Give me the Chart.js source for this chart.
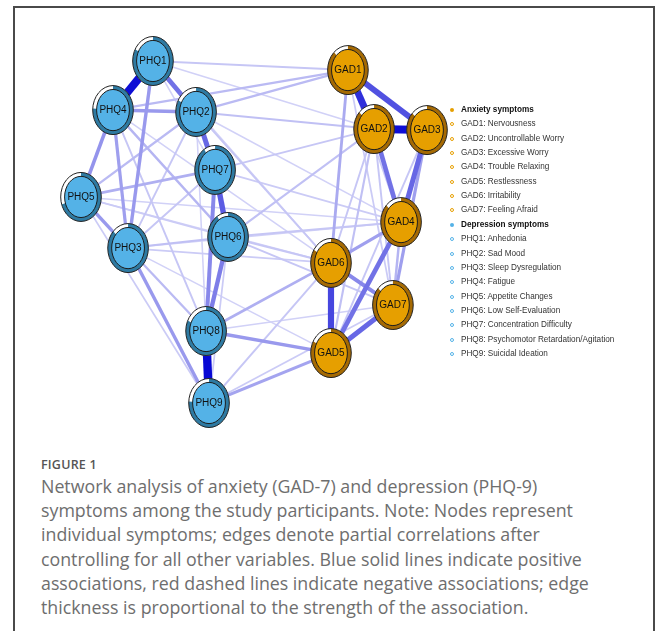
<!DOCTYPE html>
<html><head><meta charset="utf-8">
<script src="https://cdn.jsdelivr.net/npm/chart.js@4/dist/chart.umd.min.js"></script>
<style>
html,body{margin:0;padding:0;background:#fff;width:658px;height:631px;overflow:hidden;}
#frame{position:absolute;left:13px;top:6px;width:642px;height:700px;border:2px solid #4a4a4a;box-sizing:border-box;}
#wrap{position:absolute;left:0;top:0;width:658px;height:445px;}
#legend{position:absolute;left:0;top:0;font-family:"Liberation Sans",Arial,sans-serif;font-size:8.2px;color:#333;}
.row{position:absolute;left:461px;white-space:nowrap;line-height:10px;height:10px;}
.row.hd{font-weight:bold;color:#111;}
.dot{position:absolute;left:-11.5px;top:3px;width:4px;height:4px;border-radius:50%;box-sizing:border-box;}
#figlabel{position:absolute;left:41px;top:456px;font-family:"Open Sans",sans-serif;font-weight:600;font-size:12.5px;color:#555;letter-spacing:0.2px;}
#caption{position:absolute;left:41px;top:474px;width:600px;font-family:"Open Sans",sans-serif;font-weight:400;font-size:17.8px;line-height:24.2px;color:#6e6e6e;}
</style>
</head><body>
<div id="frame"></div>
<div id="wrap"><canvas id="c" width="658" height="445"></canvas></div>
<div id="legend"></div>
<div id="figlabel">FIGURE 1</div>
<div id="caption">Network analysis of anxiety (GAD-7) and depression (PHQ-9)<br>symptoms among the study participants. Note: Nodes represent<br>individual symptoms; edges denote partial correlations after<br>controlling for all other variables. Blue solid lines indicate positive<br>associations, red dashed lines indicate negative associations; edge<br>thickness is proportional to the strength of the association.</div>
<script>
// ---- data ----
const groupNames = ['Anxiety symptoms', 'Depression symptoms'];
const gadCodes = ['GAD1','GAD2','GAD3','GAD4','GAD5','GAD6','GAD7'];
const gadNames = ['Nervousness','Uncontrollable Worry','Excessive Worry','Trouble Relaxing','Restlessness','Irritability','Feeling Afraid'];
const phqCodes = ['PHQ1','PHQ2','PHQ3','PHQ4','PHQ5','PHQ6','PHQ7','PHQ8','PHQ9'];
const phqNames = ['Anhedonia','Sad Mood','Sleep Dysregulation','Fatigue','Appetite Changes','Low Self-Evaluation','Concentration Difficulty','Psychomotor Retardation/Agitation','Suicidal Ideation'];

// layout coordinates of the network (layout units, -1..1)
const nodeIds = ['PHQ1','PHQ2','PHQ3','PHQ4','PHQ5','PHQ6','PHQ7','PHQ8','PHQ9','GAD1','GAD2','GAD3','GAD4','GAD5','GAD6','GAD7'];
const layoutX = [-0.584,-0.335,-0.728,-0.815,-1.000,-0.150,-0.225,-0.277,-0.260, 0.543, 0.694, 1.000, 0.850, 0.445, 0.445, 0.803];
const layoutY = [ 1.000, 0.702,-0.094, 0.713, 0.205,-0.029, 0.363,-0.579,-1.000, 0.947, 0.602, 0.596, 0.058,-0.708,-0.181,-0.427];
// node predictability (filled share of the ring)
const predictability = [0.83,0.83,0.87,0.76,0.70,0.91,0.91,0.82,0.76, 0.88,0.87,0.87,0.87,0.83,0.84,0.87];

// edges: partial correlations
const edgeFrom = ['PHQ1','PHQ1','PHQ1','PHQ2','PHQ4','PHQ4','PHQ5','PHQ2','PHQ7','PHQ6','PHQ7','PHQ8','PHQ3','PHQ4','PHQ5','PHQ5','PHQ3','PHQ3','PHQ4','PHQ3','PHQ5','PHQ2','PHQ1','PHQ5','PHQ6','PHQ2',
  'GAD1','GAD1','GAD2','GAD2','GAD3','GAD1','GAD4','GAD4','GAD4','GAD3','GAD6','GAD6','GAD7','GAD2','GAD2','GAD1','GAD2','GAD1','GAD3',
  'PHQ1','PHQ1','PHQ4','PHQ2','PHQ2','PHQ7','PHQ7','PHQ6','PHQ6','PHQ6','PHQ6','PHQ3','PHQ3','PHQ5','PHQ8','PHQ8','PHQ9','PHQ9','PHQ9','PHQ8','PHQ2','PHQ1','PHQ3','PHQ2','PHQ5','PHQ4'];
const edgeTo = ['PHQ4','PHQ2','PHQ3','PHQ4','PHQ5','PHQ3','PHQ3','PHQ7','PHQ6','PHQ8','PHQ8','PHQ9','PHQ9','PHQ6','PHQ7','PHQ2','PHQ7','PHQ6','PHQ8','PHQ8','PHQ9','PHQ3','PHQ7','PHQ6','PHQ9','PHQ8',
  'GAD2','GAD3','GAD3','GAD4','GAD4','GAD6','GAD6','GAD5','GAD7','GAD7','GAD5','GAD7','GAD5','GAD5','GAD6','GAD7','GAD7','GAD4','GAD5',
  'GAD1','GAD2','GAD1','GAD1','GAD2','GAD2','GAD4','GAD2','GAD4','GAD7','GAD6','GAD6','GAD4','GAD6','GAD6','GAD5','GAD5','GAD6','GAD7','GAD7','GAD6','GAD6','GAD5','GAD4','GAD4','GAD7'];
const edgeWeight = [0.38,0.20,0.13,0.13,0.14,0.12,0.13,0.22,0.24,0.18,0.16,0.40,0.13,0.08,0.09,0.07,0.05,0.06,0.05,0.07,0.04,0.05,0.03,0.04,0.04,0.03,
  0.32,0.26,0.38,0.20,0.22,0.10,0.12,0.20,0.08,0.12,0.28,0.16,0.22,0.06,0.05,0.04,0.05,0.04,0.05,
  0.05,0.03,0.07,0.07,0.06,0.05,0.04,0.06,0.05,0.05,0.05,0.04,0.03,0.03,0.09,0.13,0.11,0.05,0.04,0.03,0.05,0.03,0.03,0.03,0.03,0.03];

// ---- styles ----
const maxW = 0.4;
const edgeBase = [8, 8, 212];
function edgeColor(w){
  const a = Math.min(1, 0.12 + 0.9 * w / maxW);
  const c = edgeBase.map(v => Math.round(255 + (v - 255) * a));
  return 'rgb(' + c.join(',') + ')';
}
function edgeWidth(w){ return 1 + 7.4 * w / maxW; }
const style = {
  PHQ: {fill:'#54B2E7', ring:'#2E7AA2'},
  GAD: {fill:'#E69F00', ring:'#A56A03'}
};

// ---- datasets ----
const idx = id => nodeIds.indexOf(id);
const datasets = edgeFrom.map((f, i) => {
  const a = idx(f), b = idx(edgeTo[i]), w = edgeWeight[i];
  return {
    type: 'line',
    data: [{x: layoutX[a], y: layoutY[a]}, {x: layoutX[b], y: layoutY[b]}],
    borderColor: edgeColor(w),
    borderWidth: edgeWidth(w),
    borderCapStyle: 'butt',
    pointRadius: 0,
    fill: false,
    order: Math.round((1 - w / maxW) * 1000) + 10
  };
});
datasets.push({
  type: 'scatter', label: 'nodes',
  data: nodeIds.map((id, i) => ({x: layoutX[i], y: layoutY[i]})),
  pointRadius: 0, order: 0
});
const nodeDsIndex = datasets.length - 1;

const nodePlugin = {
  id: 'nodes',
  afterDatasetsDraw(chart){
    const ctx = chart.ctx;
    const meta = chart.getDatasetMeta(nodeDsIndex);
    const rx = 20.3, ry = 24.5, ring = 3.9;
    meta.data.forEach((el, i) => {
      const id = nodeIds[i];
      const st = style[id.slice(0,3)];
      const cx = el.x, cy = el.y;
      ctx.save();
      ctx.beginPath(); ctx.ellipse(cx, cy, rx, ry, 0, 0, Math.PI*2);
      ctx.fillStyle = '#ffffff'; ctx.fill();
      const start = -Math.PI/2, end = start + Math.PI*2*predictability[i];
      ctx.beginPath(); ctx.moveTo(cx, cy);
      ctx.ellipse(cx, cy, rx, ry, 0, start, end);
      ctx.closePath(); ctx.fillStyle = st.ring; ctx.fill();
      ctx.beginPath(); ctx.ellipse(cx, cy, rx, ry, 0, 0, Math.PI*2);
      ctx.lineWidth = 1; ctx.strokeStyle = '#222'; ctx.stroke();
      ctx.beginPath(); ctx.ellipse(cx, cy, rx - ring, ry - ring, 0, 0, Math.PI*2);
      ctx.fillStyle = st.fill; ctx.fill();
      ctx.lineWidth = 1; ctx.strokeStyle = '#1d1d1d'; ctx.stroke();
      ctx.fillStyle = '#111';
      ctx.font = '10px "Liberation Sans", Arial, sans-serif';
      ctx.textAlign = 'center'; ctx.textBaseline = 'middle';
      ctx.fillText(id, cx, cy + 0.5);
      ctx.restore();
    });
  }
};

new Chart(document.getElementById('c'), {
  type: 'scatter',
  data: {datasets},
  options: {
    responsive: false, animation: false, devicePixelRatio: 1,
    layout: {padding: {left: 81, right: 231, top: 61, bottom: 42}},
    scales: {
      x: {type: 'linear', min: -1, max: 1, display: false},
      y: {type: 'linear', min: -1, max: 1, display: false}
    },
    plugins: {legend: {display: false}, tooltip: {enabled: false}},
    events: []
  },
  plugins: [nodePlugin]
});

// ---- legend ----
const leg = document.getElementById('legend');
const legRows = [];
legRows.push({t: groupNames[0], hd: true, col: style.GAD.fill});
gadCodes.forEach((c, i) => legRows.push({t: c + ': ' + gadNames[i], col: style.GAD.fill}));
legRows.push({t: groupNames[1], hd: true, col: style.PHQ.fill});
phqCodes.forEach((c, i) => legRows.push({t: c + ': ' + phqNames[i], col: style.PHQ.fill}));
legRows.forEach((r, i) => {
  const d = document.createElement('div');
  d.className = 'row' + (r.hd ? ' hd' : '');
  d.style.top = (105 + i * 14.35) + 'px';
  d.textContent = r.t;
  const dot = document.createElement('span');
  dot.className = 'dot';
  if (r.hd) dot.style.background = r.col; else dot.style.border = '1px solid ' + r.col;
  d.appendChild(dot);
  leg.appendChild(d);
});
</script>
</body></html>
